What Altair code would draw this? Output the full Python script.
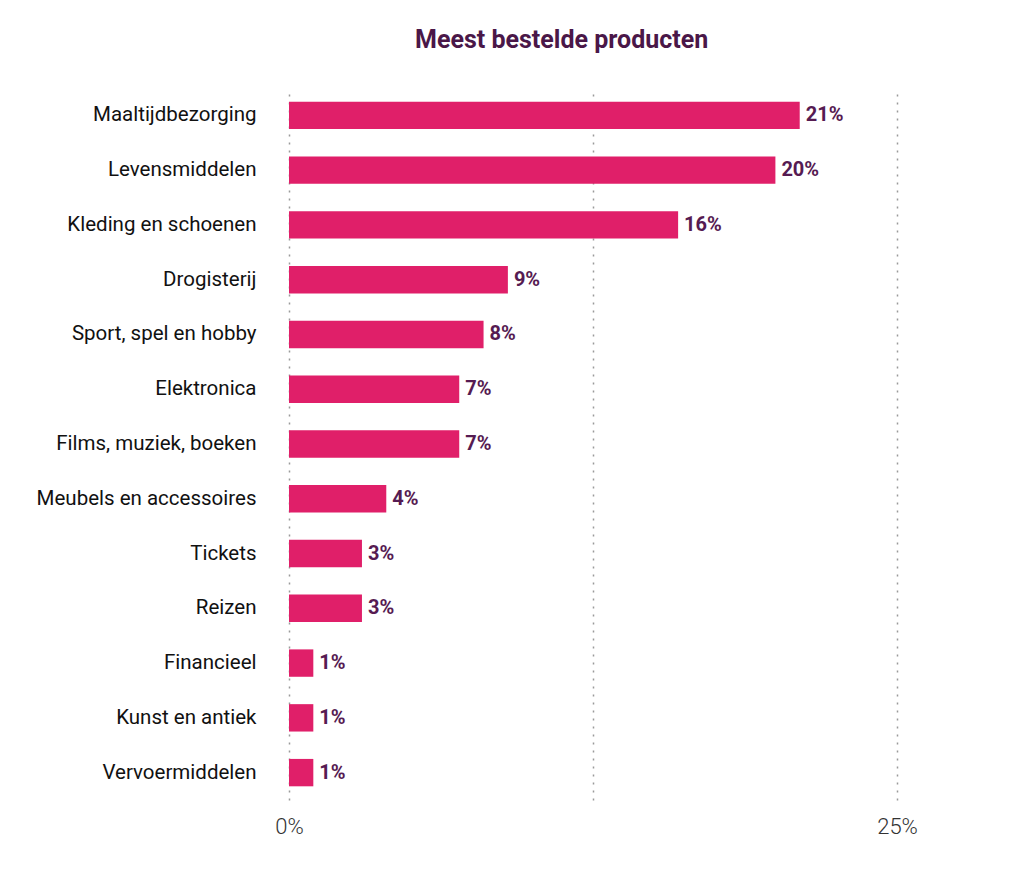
import altair as alt
import pandas as pd

categories = ["Maaltijdbezorging", "Levensmiddelen", "Kleding en schoenen", "Drogisterij",
              "Sport, spel en hobby", "Elektronica", "Films, muziek, boeken",
              "Meubels en accessoires", "Tickets", "Reizen", "Financieel",
              "Kunst en antiek", "Vervoermiddelen"]
values = [21, 20, 16, 9, 8, 7, 7, 4, 3, 3, 1, 1, 1]
x_ticks = [0, 12.5, 25]

df = pd.DataFrame({"cat": categories, "val": values})
df["label"] = df["val"].astype(str) + "%"

FONT = "Roboto"

base = alt.Chart(df).encode(
    y=alt.Y("cat:N", sort=categories, title=None,
            scale=alt.Scale(paddingInner=0.5, paddingOuter=0.25),
            axis=alt.Axis(domain=False, ticks=False, labelPadding=33, labelFontSize=20.5,
                          labelFont=FONT, labelColor="#111111", labelLimit=400))
)

bars = base.mark_bar(color="#E01F69").encode(
    x=alt.X("val:Q", title=None,
            scale=alt.Scale(domain=[0, 25], nice=False),
            axis=alt.Axis(values=x_ticks, domain=False, ticks=False, grid=True,
                          gridDash=[2, 6], gridColor="#9a9a9a", gridWidth=1.5,
                          labelExpr="datum.value == 12.5 ? '' : datum.value + '%'",
                          labelFlush=False,
                          labelFontSize=22, labelFont=FONT, labelFontWeight=300,
                          labelColor="#333333", labelPadding=16))
)

text = base.mark_text(align="left", dx=6, font=FONT, fontSize=20, fontWeight="bold",
                      color="#561B52").encode(
    x=alt.X("val:Q"), text="label:N")

chart = (bars + text).properties(
    width=608, height=712,
    title=alt.TitleParams("Meest bestelde producten", anchor="start", frame="group", dx=126,
                          font=FONT, fontSize=25, fontWeight="bold", color="#4A1748",
                          offset=35),
    padding={"left": 28, "top": 20, "right": 20, "bottom": 20}
).configure_view(stroke=None)

chart.save("out.html", embed_options={"renderer": "svg", "actions": False})
